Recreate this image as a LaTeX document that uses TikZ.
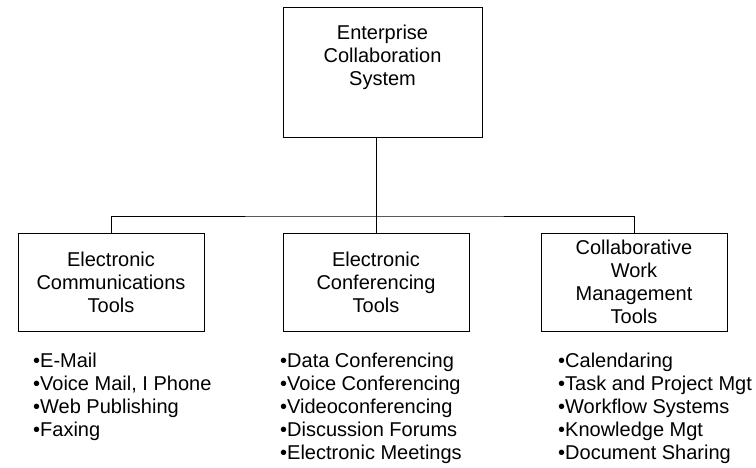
\documentclass[tikz,border=0pt]{standalone}
\usepackage{fontspec}
\setmainfont{Liberation Sans}
\usetikzlibrary{positioning}
\begin{document}
\begin{tikzpicture}[x=1pt,y=-1pt,
  font=\fontsize{20}{23}\selectfont,
  box/.style={draw, line width=0.9pt, align=center, inner sep=2pt, minimum width=186pt, minimum height=98pt},
  items/.style={anchor=north west, align=left, inner sep=0pt},
  link/.style={draw, line width=0.9pt}]
\useasboundingbox (0,0) rectangle (756,467);
\node[box, minimum width=199pt, minimum height=130pt] (ecs) at (382.5,72) {};
\node[align=center, inner sep=0pt] (ecstext) at (382.5,57) {Enterprise\\Collaboration\\System};
\node[box] (ect) at (111,282) {Electronic\\Communications\\Tools};
\node[box] (ecf) at (376,282) {Electronic\\Conferencing\\Tools};
\node[box] (cwm) at (634,282) {Collaborative\\Work\\Management\\Tools};
\coordinate (bus) at (376,216);
\path[link] (ecs.south -| ecf.north) -- (ecf.north);
\path[link] (ect.north) |- (bus) -| (cwm.north);
\node[items] (ectlist) at (33,352.5) {•E-Mail\\•Voice Mail, I Phone\\•Web Publishing\\•Faxing};
\node[items] (ecflist) at (280,352.5) {•Data Conferencing\\•Voice Conferencing\\•Videoconferencing\\•Discussion Forums\\•Electronic Meetings};
\node[items] (cwmlist) at (558,352.5) {•Calendaring\\•Task and Project Mgt\\•Workflow Systems\\•Knowledge Mgt\\•Document Sharing};
\end{tikzpicture}
\end{document}
